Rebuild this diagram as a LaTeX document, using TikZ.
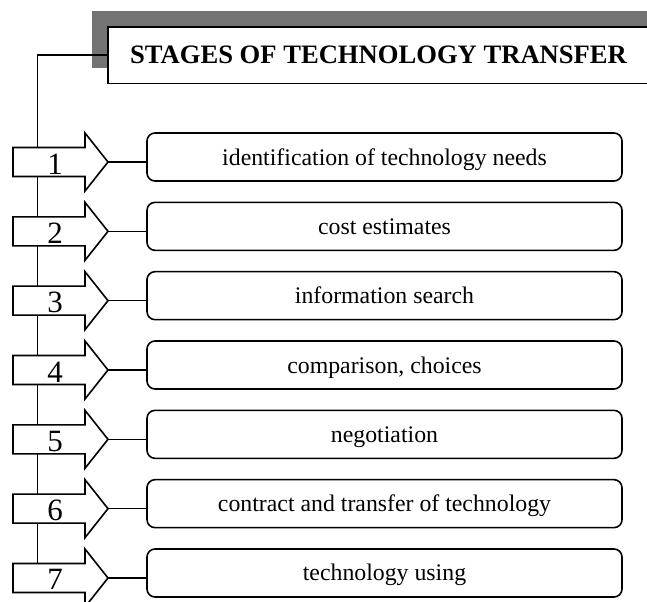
\documentclass[tikz,border=0pt]{standalone}
\usepackage{fontspec}
\setmainfont{Liberation Serif}
\usepackage{tikz}
\usetikzlibrary{calc}

\begin{document}
\begin{tikzpicture}[x=0.5pt, y=-0.5pt, line width=0.8pt,
	titlebox/.style={draw, fill=white, inner sep=0pt, minimum width=270.8pt, minimum height=28.3pt, font=\fontsize{13.3}{16}\selectfont\bfseries},
	stagebox/.style={draw, fill=white, rounded corners=4pt, inner sep=0pt, minimum width=237.5pt, minimum height=24pt, text height=8pt, text depth=0pt, font=\fontsize{11.9}{14}\selectfont},
	stagearrow/.style={draw, fill=white, line join=miter},
	stagenum/.style={anchor=base, inner sep=0pt, font=\fontsize{15.5}{18}\selectfont}]
	\useasboundingbox (0,0) rectangle (647,601);
	\clip (0,0) rectangle (647,601);
	\fill[black!55] (91.7,11) rectangle (660,67.7);
	\node[titlebox] (title) at (378.5,55) {STAGES OF TECHNOLOGY TRANSFER};
	\coordinate (spine) at (37.3,578);
	\draw (title.west) -| (spine);
	\foreach \i/\txt in {1/identification of technology needs, 2/cost estimates, 3/information search,
		4/{comparison, choices}, 5/negotiation, 6/contract and transfer of technology, 7/technology using} {
		\pgfmathsetmacro\c{162+69.33*(\i-1)}
		\coordinate (tip\i) at (108,\c);
		\draw[stagearrow] (13,\c-14.5) -- (85,\c-14.5) -- (85,\c-29) -- (tip\i)
			-- (85,\c+29) -- (85,\c+14.5) -- (13,\c+14.5) -- cycle;
		\node[stagenum] (num\i) at (55,\c+12) {\i};
		\node[stagebox] (stage\i) at (384.5,\c-5) {\txt};
		\draw (tip\i) -- (tip\i -| stage\i.west);
	}
\end{tikzpicture}
\end{document}
